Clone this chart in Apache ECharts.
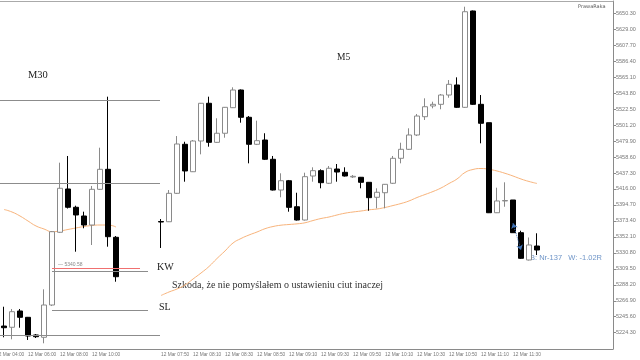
<!DOCTYPE html>
<html><head><meta charset="utf-8">
<script src="https://cdn.jsdelivr.net/npm/echarts@6/dist/echarts.min.js"></script>
<style>html,body{margin:0;padding:0;background:#fff}#c{width:640px;height:360px}</style>
</head><body><div id="c"></div>
<script>
// ---------- M5 chart data ----------
const m5Times = ['07:50','07:55','08:00','08:05','08:10','08:15','08:20','08:25','08:30','08:35','08:40','08:45','08:50','08:55','09:00','09:05','09:10','09:15','09:20','09:25','09:30','09:35','09:40','09:45','09:50','09:55','10:00','10:05','10:10','10:15','10:20','10:25','10:30','10:35','10:40','10:45','10:50','10:55','11:00','11:05','11:10','11:15','11:20','11:25','11:30','11:35','11:40','11:45'];
const m5Open  = [5372.6,5372.3,5410.2,5475.6,5439.0,5480.0,5530.3,5478.2,5490.3,5524.4,5548.0,5511.6,5475.6,5481.3,5455.6,5414.6,5427.0,5392.3,5374.6,5433.3,5440.4,5423.6,5442.6,5438.2,5432.0,5431.6,5424.9,5404.9,5411.0,5423.6,5456.9,5468.9,5488.0,5512.4,5526.7,5528.9,5541.3,5554.7,5524.9,5653.4,5528.9,5504.4,5384.3,5400.0,5401.3,5357.7,5321.3,5339.9];
const m5Close = [5371.9,5410.2,5476.0,5440.0,5480.0,5530.3,5478.2,5490.3,5524.9,5548.0,5511.6,5475.6,5480.4,5455.6,5414.6,5427.0,5391.5,5374.6,5432.4,5440.4,5424.4,5443.6,5438.6,5433.3,5432.9,5424.9,5404.4,5411.6,5422.2,5456.9,5468.9,5488.0,5513.3,5525.7,5528.9,5541.3,5555.6,5524.9,5652.4,5528.9,5503.6,5384.3,5400.0,5400.6,5357.7,5323.5,5341.3,5334.6];
const m5Low   = [5337.3,5371.9,5409.3,5425.7,5438.6,5462.2,5472.4,5477.3,5484.4,5524.0,5504.4,5450.2,5474.6,5454.6,5414.0,5404.9,5385.7,5373.9,5373.9,5425.7,5416.9,5422.6,5425.7,5432.6,5430.6,5416.9,5387.0,5390.2,5390.2,5422.6,5450.2,5468.0,5486.6,5508.0,5523.6,5522.3,5537.7,5524.0,5524.0,5528.0,5476.9,5383.9,5383.9,5392.3,5357.3,5322.6,5320.6,5327.9];
const m5High  = [5375.9,5414.6,5486.6,5479.0,5481.3,5530.7,5539.1,5510.3,5525.3,5551.6,5548.7,5513.3,5507.1,5490.3,5460.0,5436.9,5428.0,5411.0,5437.7,5444.9,5442.2,5446.6,5449.3,5444.9,5434.6,5432.0,5425.3,5416.9,5422.6,5460.0,5477.7,5496.9,5516.0,5536.9,5532.4,5542.7,5561.3,5564.9,5659.1,5654.0,5541.3,5504.4,5417.7,5424.9,5401.3,5360.3,5351.3,5356.9];
const m5MA    = [5273.9,5278.6,5282.6,5287.9,5295.9,5303.9,5312.6,5323.3,5333.3,5343.9,5349.9,5354.6,5358.6,5363.0,5365.9,5367.7,5368.6,5369.5,5370.9,5373.9,5376.6,5378.6,5381.3,5383.7,5385.3,5386.6,5388.2,5389.3,5391.3,5393.9,5396.6,5400.0,5404.6,5408.6,5412.6,5417.3,5423.3,5429.3,5438.0,5442.0,5443.3,5442.2,5440.0,5436.9,5433.3,5429.3,5426.0,5423.3];
const m5PadBefore = ['06:15','06:20','06:25','06:30','06:35','06:40','06:45','06:50','06:55','07:00','07:05','07:10','07:15','07:20','07:25','07:30','07:35','07:40','07:45'];
const m5PadAfter  = ['11:50','11:55','12:00','12:05','12:10','12:15','12:20','12:25','12:30'];
const yTicks = [5224.3,5245.6,5266.9,5288.2,5309.5,5330.8,5352.1,5373.4,5394.7,5416.0,5437.3,5458.6,5479.9,5501.2,5522.5,5543.8,5565.1,5586.4,5607.7,5629.0,5650.3];
// trade arrow (entry -> exit)
const tradeFrom = ['11:30', 5370.2];
const tradeTo   = ['11:35', 5334.6];

// ---------- M30 inset data ----------
const m30Times = ['04:30','05:00','05:30','06:00','06:30','07:00','07:30','08:00','08:30','09:00','09:30','10:00','10:30','11:00','11:30'];
const m30Open  = [5233.5,5231.2,5261.4,5249.7,5216.9,5212.6,5272.5,5407.4,5487.7,5453.8,5437.6,5420.9,5487.1,5524.2,5398.1];
const m30Close = [5230.4,5260.1,5249.7,5215.0,5213.7,5272.5,5408.5,5489.0,5453.8,5439.5,5420.9,5487.1,5524.2,5399.2,5325.0];
const m30Low   = [5212.6,5208.9,5230.4,5207.6,5211.3,5201.5,5270.6,5406.1,5451.5,5371.4,5414.8,5383.8,5485.8,5380.7,5315.7];
const m30High  = [5269.3,5265.1,5265.1,5250.3,5218.7,5301.6,5409.8,5536.5,5548.9,5456.7,5445.6,5493.3,5564.3,5658.9,5400.5];
const m30MA    = [5449.7,5445.0,5437.6,5428.3,5419.1,5413.5,5408.5,5409.8,5412.6,5415.4,5418.1,5420.0,5420.9,5420.9,5417.2];
const m30PadBefore = ['04:00'];
const m30PadAfter  = ['12:00','12:30','13:00','13:30','14:00'];
const m30FullLevels = [5652.8, 5498.3, 5216.9];
const m30ShortLevels = [5335.6, 5263.2];
const m30Entry = 5340.58;

// ---------- build ----------
const day = '12 Mar ';
const m5Cats = m5PadBefore.concat(m5Times, m5PadAfter).map(t => day + t);
const m30Cats = m30PadBefore.concat(m30Times, m30PadAfter).map(t => day + t);
const m5Off = m5PadBefore.length, m30Off = m30PadBefore.length;
const m5Candles = m5Times.map((t,i) => [i + m5Off, m5Open[i], m5Close[i], m5Low[i], m5High[i]]);
const m5MALine = m5MA.map((v,i) => [i + m5Off, v]);
const m30Candles = m30Times.map((t,i) => [i + m30Off, m30Open[i], m30Close[i], m30Low[i], m30High[i]]);
const m30MALine = m30MA.map((v,i) => [i + m30Off, v]);

const m5LabelIdx = i => i >= m5Off && i < m5Off + m5Times.length && (i - m5Off) % 4 === 0;
const m30LabelIdx = i => i % 4 === 0 && i <= 12;

const candleStyle = { color:'#ffffff', color0:'#000000', borderColor:'#8a8a8a', borderColor0:'#000000', borderWidth:1 };
const tickLabel = { fontSize:4.8, color:'#777', fontFamily:'Liberation Sans', hideOverlap:false, showMinLabel:true, showMaxLabel:true };

const chart = echarts.init(document.getElementById('c'), null, {renderer:'canvas'});
chart.setOption({
  animation:false,
  backgroundColor:'#ffffff',
  grid:[
    {left:-8, top:1, width:168, height:348, outerBoundsMode:'none', containLabel:false},
    {left:5, top:1, width:608, height:348, outerBoundsMode:'none', containLabel:false}
  ],
  xAxis:[
    {gridIndex:0, type:'category', data:m30Cats, boundaryGap:true,
     axisLine:{lineStyle:{color:'#8a8a8a'}},
     axisTick:{alignWithLabel:true, interval:m30LabelIdx, length:3, lineStyle:{color:'#8a8a8a'}},
     axisLabel:Object.assign({interval:m30LabelIdx, align:'left', margin:3}, tickLabel),
     splitLine:{show:false}},
    {gridIndex:1, type:'category', data:m5Cats, boundaryGap:true,
     axisLine:{lineStyle:{color:'#8a8a8a'}},
     axisTick:{alignWithLabel:true, interval:m5LabelIdx, length:3, lineStyle:{color:'#8a8a8a'}},
     axisLabel:Object.assign({interval:m5LabelIdx, align:'left', margin:3}, tickLabel),
     splitLine:{show:false}},
    {gridIndex:0, type:'category', data:m30Cats, position:'top', axisLine:{lineStyle:{color:'#aaaaaa'}}, axisTick:{show:false}, axisLabel:{show:false}},
    {gridIndex:1, type:'category', data:m5Cats, position:'top', axisLine:{lineStyle:{color:'#aaaaaa'}}, axisTick:{show:false}, axisLabel:{show:false}}
  ],
  yAxis:[
    {gridIndex:0, type:'value', min:5190.9, max:5836.4, show:false},
    {gridIndex:1, type:'value', position:'right', min:5202.56, max:5666.71,
     axisLine:{show:true, lineStyle:{color:'#8a8a8a'}},
     axisTick:{show:true, customValues:yTicks, length:3, lineStyle:{color:'#8a8a8a'}},
     axisLabel:{customValues:yTicks, margin:3, fontSize:5.5, color:'#777', fontFamily:'Liberation Sans', formatter:v => v.toFixed(2), hideOverlap:false},
     splitLine:{show:false}}
  ],
  series:[
    {type:'candlestick', xAxisIndex:1, yAxisIndex:1, data:m5Candles, encode:{x:0, y:[1,2,3,4]},
     barWidth:5, itemStyle:candleStyle,
     markLine:{silent:true, symbol:['arrow','arrow'], symbolSize:5,
       lineStyle:{color:'#3f72b5', type:'dotted', width:1},
       label:{show:false},
       data:[[{coord:[day+tradeFrom[0], tradeFrom[1]]},{coord:[day+tradeTo[0], tradeTo[1]]}]]}},
    {type:'line', xAxisIndex:1, yAxisIndex:1, data:m5MALine, smooth:true, showSymbol:false,
     lineStyle:{color:'#f8b47c', width:1}, z:1},
    {type:'candlestick', xAxisIndex:0, yAxisIndex:0, data:m30Candles, encode:{x:0, y:[1,2,3,4]},
     barWidth:5, itemStyle:candleStyle,
     markLine:{silent:true, symbol:'none',
       label:{show:false},
       data:[].concat(
         m30FullLevels.map(v => ({yAxis:v, lineStyle:{color:'#8c8c8c', type:'solid', width:1}})),
         m30ShortLevels.map(v => [{coord:[7, v], lineStyle:{color:'#8c8c8c', type:'solid', width:1}},{coord:[19, v]}]),
         [[{coord:[7, m30Entry], lineStyle:{color:'#f07070', type:'solid', width:1},
            label:{show:true, position:'insideStartTop', formatter:'— ' + m30Entry.toFixed(2), fontSize:5, color:'#888', distance:[6,1]}},
           {coord:[18, m30Entry]}]]
       )}},
    {type:'line', xAxisIndex:0, yAxisIndex:0, data:m30MALine, smooth:true, showSymbol:false,
     lineStyle:{color:'#f8b47c', width:1}, z:1}
  ],
  graphic:[
    {type:'text', left:28, top:70, style:{text:'M30', font:'10.5px "Liberation Serif"', fill:'#222'}},
    {type:'text', left:337, top:52, style:{text:'M5', font:'9.5px "Liberation Serif"', fill:'#222'}},
    {type:'text', left:157, top:262, style:{text:'KW', font:'10px "Liberation Serif"', fill:'#222'}},
    {type:'text', left:159, top:302, style:{text:'SL', font:'10px "Liberation Serif"', fill:'#222'}},
    {type:'text', left:172, top:280, style:{text:'Szkoda, że nie pomyślałem o ustawieniu ciut inaczej', font:'10px "Liberation Serif"', fill:'#333'}},
    {type:'text', left:530, top:254, style:{text:'B: Nr-137   W: -1.02R', font:'7.5px "Liberation Sans"', fill:'#6f95c8'}},
    {type:'text', left:578, top:4, style:{text:'PrawaRaka', font:'5px "DejaVu Sans"', fill:'#555'}}
  ]
});
</script>
</body></html>
